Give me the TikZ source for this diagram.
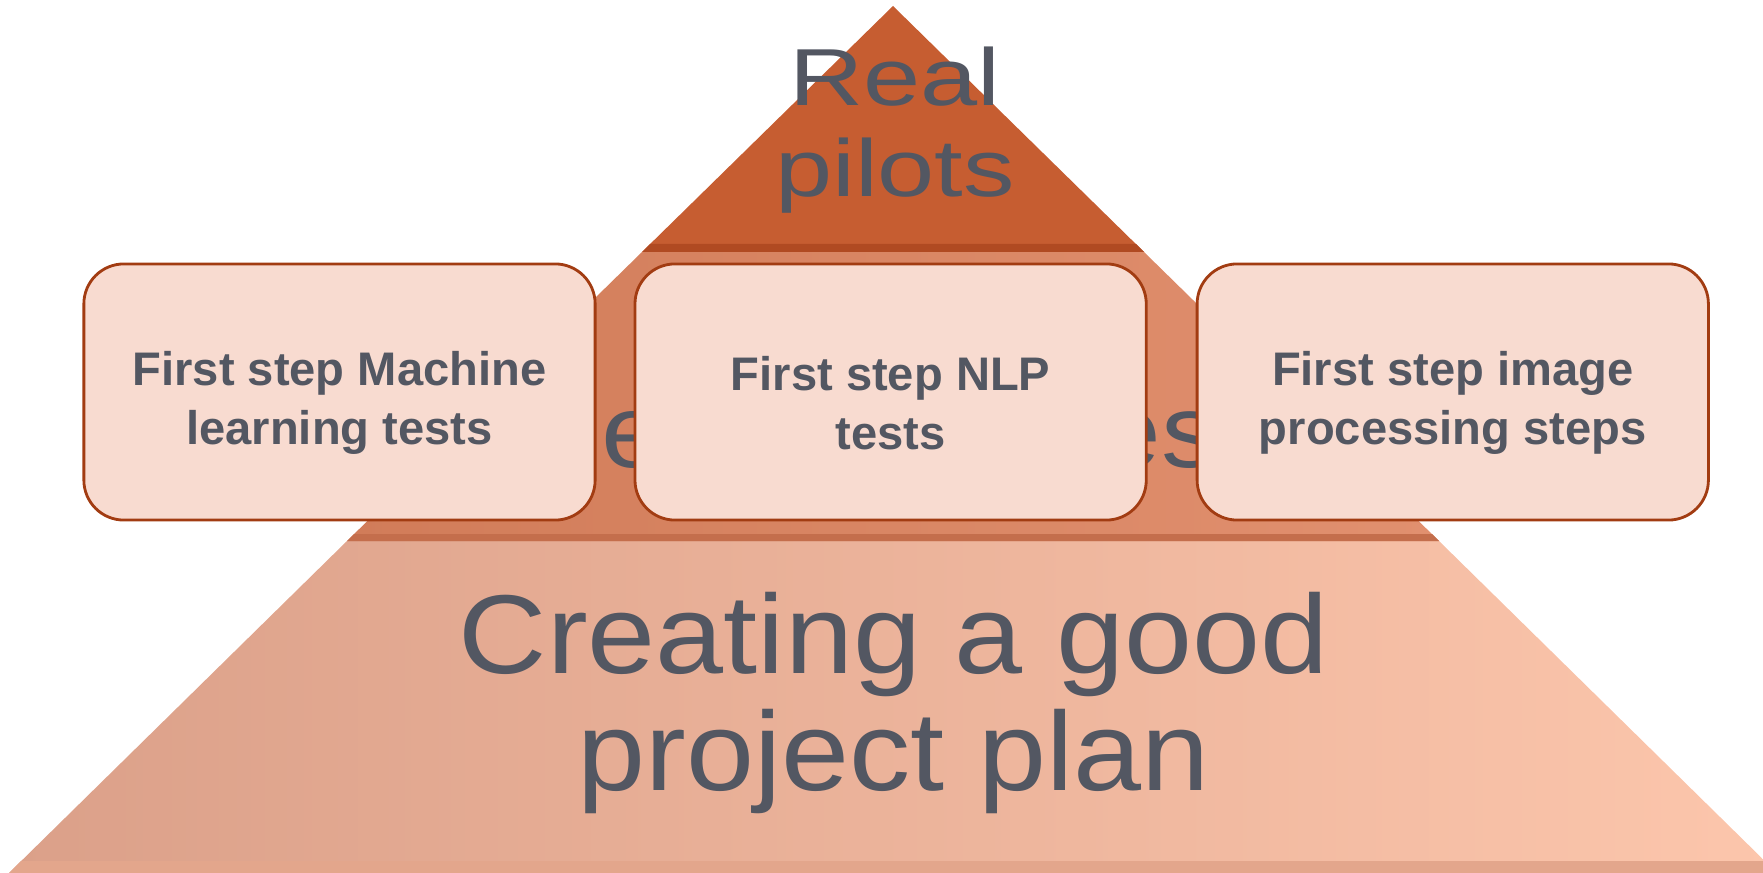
\documentclass[tikz,border=0pt]{standalone}
\usepackage{fontspec}
\setmainfont{Liberation Sans}
\usetikzlibrary{positioning}
\definecolor{pyrtop}{HTML}{C65D31}
\definecolor{pyrtopedge}{HTML}{B04A22}
\definecolor{midL}{HTML}{D17C59}
\definecolor{midR}{HTML}{E1906F}
\definecolor{midedge}{HTML}{C46E4C}
\definecolor{lowL}{HTML}{DBA089}
\definecolor{lowR}{HTML}{FCC6AC}
\definecolor{lowedge}{HTML}{E3A68C}
\definecolor{boxfill}{HTML}{F8DBD0}
\definecolor{boxline}{HTML}{A23C12}
\definecolor{textgray}{HTML}{535762}
\newcommand{\widetext}[2]{\scalebox{#1}[1]{#2}}
\newcommand{\highstrut}{\rule{0pt}{16pt}}
\tikzset{
  stepbox/.style={draw=boxline, line width=0.8pt, fill=boxfill, rounded corners=0.4cm,
    minimum width=5.11cm, minimum height=2.56cm, inner sep=0pt, align=center,
    text=textgray, font=\fontsize{13.4}{16.8}\selectfont\bfseries},
  tierlabel/.style={text=textgray, align=center, inner sep=0pt}
}
\begin{document}
\begin{tikzpicture}[x=0.01cm, y=-0.01cm]
    \useasboundingbox (0,0) rectangle (1763,873);
    \begin{scope}
    \clip (0,0) rectangle (1763,873);
    %tiers
    \shade[left color=lowL, right color=lowR] (347,541) -- (1439,541) -- (1777,873) -- (9,873) -- cycle;
    \fill[lowedge] (21,861) -- (1765,861) -- (1777,873) -- (9,873) -- cycle;
    \shade[left color=midL, right color=midR] (642,252) -- (1144,252) -- (1439,541) -- (347,541) -- cycle;
    \fill[midedge] (354,534) -- (1432,534) -- (1439,541) -- (347,541) -- cycle;
    \fill[pyrtop] (893,6) -- (1144,252) -- (642,252) -- cycle;
    \fill[pyrtopedge] (650,244) -- (1136,244) -- (1144,252) -- (642,252) -- cycle;
    \end{scope}
    %tier labels
    \node[tierlabel, font=\fontsize{23}{26}\selectfont] (pilots) at (895,130)
      {\widetext{1.27}{Real}\\\widetext{1.27}{pilots}};
    \node[tierlabel, font=\fontsize{29.6}{30.7}\selectfont] (tests) at (910,441)
      {\widetext{1.1}{experiences}};
    \node[tierlabel, font=\fontsize{31.9}{33}\selectfont] (plan) at (894,703)
      {\widetext{1.09}{Creating a good}\\\widetext{1.09}{project plan}};
    %steps
    \node[stepbox] (ml) at (339.5,392) {\highstrut First step Machine\\learning tests};
    \node[stepbox, right=0.37cm of ml] (nlp) {\highstrut First step NLP\\tests};
    \node[stepbox, right=0.48cm of nlp] (img) {\highstrut First step image\\processing steps};
\end{tikzpicture}
\end{document}
